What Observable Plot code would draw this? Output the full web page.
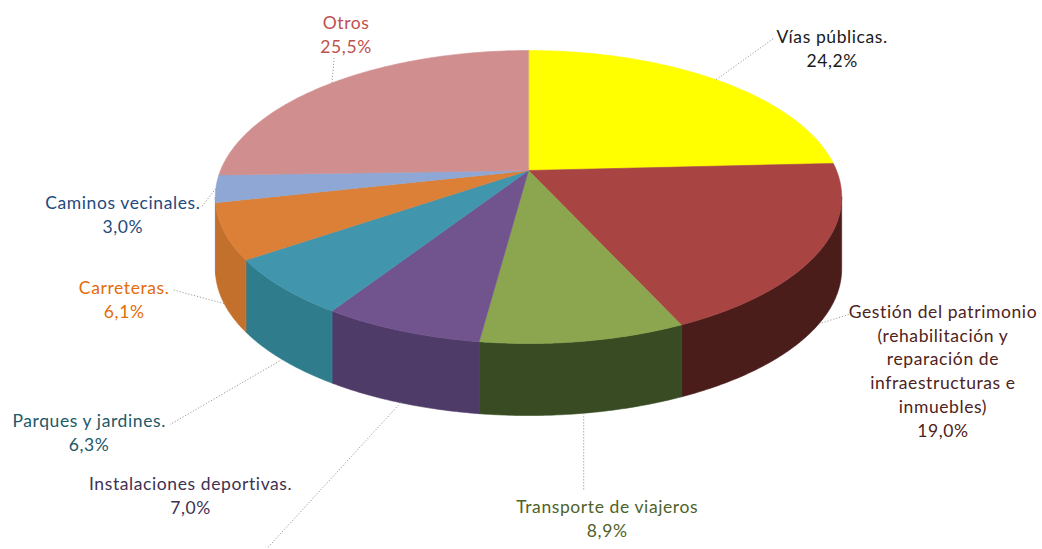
<!DOCTYPE html>
<html>
<head>
<meta charset="utf-8">
<script src="https://cdn.jsdelivr.net/npm/d3@7"></script>
<script src="https://cdn.jsdelivr.net/npm/@observablehq/plot@0.6"></script>
<style>
  html, body { margin: 0; padding: 0; background: #ffffff; }
  #chart svg { display: block; }
  #chart text { letter-spacing: 0.6px; }
</style>
</head>
<body>
<div id="chart"></div>
<script>
// ---- data (clockwise from 12 o'clock) ----
const categories = [
  "Vías públicas.",
  "Gestión del patrimonio\n(rehabilitación y\nreparación de\ninfraestructuras e\ninmuebles)",
  "Transporte de viajeros",
  "Instalaciones deportivas.",
  "Parques y jardines.",
  "Carreteras.",
  "Caminos vecinales.",
  "Otros"
];
const values = [24.2, 19.0, 8.9, 7.0, 6.3, 6.1, 3.0, 25.5];

// ---- styles ----
const topColors   = ["#FFFF00", "#A84442", "#8BA64E", "#71548E", "#4196AE", "#DC7F37", "#8EA7D4", "#D08E8E"];
const wallColors  = ["#B8B800", "#4A1D1B", "#384B22", "#4F3B68", "#2F7C8D", "#C4702D", "#6F86B3", "#A86C6C"];
const labelColors = ["#1A1A1A", "#4E2220", "#4F6228", "#3F3151", "#215968", "#E46C0A", "#1F497D", "#C0504D"];
// leader end (ex, ey) and text-block centre (tx, ty), as offsets from the slice anchor
const labelOffsets = [
  {ex: 57,   ey: -41, tx: 116,  ty: -32.5},
  {ex: 35,   ey: -11, tx: 124,  ty: 46},
  {ex: 0,    ey: 77,  tx: 23.5, ty: 104},
  {ex: -133, ey: 145, tx: -210, ty: 92},
  {ex: -112, ey: 65,  tx: -193, ty: 72},
  {ex: -52,  ey: -14, tx: -100, ty: -5.5},
  {ex: -15,  ey: 19,  tx: -93,  ty: 24.5},
  {ex: 2,    ey: -25, tx: 14,   ty: -49.5}
];

// ---- 3D pie geometry (perspective ellipse) ----
const W = 1042, H = 549;
const cx = 528, cy = 170, RX = 308, RY = 141.7, persp = 0.181, depth = 72;
function proj(theta, drop = 0) {
  const u = Math.sin(theta), v = -Math.cos(theta), k = 1 / (1 - persp * v);
  return {x: cx + RX * u * k, y: cy + RY * v * k + drop};
}
const total = d3.sum(values);
const tRight = Math.acos(-persp);          // silhouette angles
const tLeft = 2 * Math.PI - tRight;
const step = Math.PI / 360;

const tops = [], walls = [], leaders = [], labels = [];
let acc = 0;
values.forEach((val, i) => {
  const a0 = acc / total * 2 * Math.PI;
  acc += val;
  const a1 = acc / total * 2 * Math.PI;
  // top face
  const id = "t" + i;
  tops.push({id, x: cx, y: cy, color: topColors[i]});
  for (let t = a0; t < a1; t += step) tops.push({id, ...proj(t), color: topColors[i]});
  tops.push({id, ...proj(a1), color: topColors[i]});
  // visible outer wall
  const w0 = Math.max(a0, tRight), w1 = Math.min(a1, tLeft);
  if (w1 > w0) {
    const wid = "w" + i, pts = [];
    for (let t = w0; t < w1; t += step) pts.push(t);
    pts.push(w1);
    pts.forEach(t => walls.push({id: wid, ...proj(t), color: wallColors[i]}));
    pts.slice().reverse().forEach(t => walls.push({id: wid, ...proj(t, depth), color: wallColors[i]}));
  }
  // label anchor
  const mid = (a0 + a1) / 2;
  const v = -Math.cos(mid);
  const s = proj(mid, v > 0.3 ? depth : 0);
  const o = labelOffsets[i];
  leaders.push({x1: s.x, y1: s.y, x2: s.x + o.ex, y2: s.y + o.ey});
  labels.push({
    x: s.x + o.tx, y: s.y + o.ty,
    text: categories[i] + "\n" + val.toFixed(1).replace(".", ",") + "%",
    color: labelColors[i]
  });
});

const chart = Plot.plot({
  width: W, height: H,
  margin: 0,
  x: {domain: [0, W], range: [0, W], axis: null},
  y: {domain: [0, H], range: [0, H], axis: null},
  color: {type: "identity"},
  style: {background: "#ffffff", overflow: "visible"},
  marks: [
    Plot.line(walls, {x: "x", y: "y", z: "id", fill: "color", stroke: "color", strokeWidth: 0.6, curve: "linear-closed"}),
    Plot.line(tops, {x: "x", y: "y", z: "id", fill: "color", stroke: "color", strokeWidth: 0.6, curve: "linear-closed"}),
    Plot.link(leaders, {x1: "x1", y1: "y1", x2: "x2", y2: "y2", stroke: "#9a9a9a", strokeWidth: 1, strokeDasharray: "1.2,1.8"}),
    Plot.text(labels, {
      x: "x", y: "y", text: "text", fill: "color",
      fontSize: 17.5, lineHeight: 1.37, lineAnchor: "middle", textAnchor: "middle",
      fontFamily: "Lato, 'Open Sans', sans-serif"
    })
  ]
});
document.getElementById("chart").appendChild(chart);
</script>
</body>
</html>
